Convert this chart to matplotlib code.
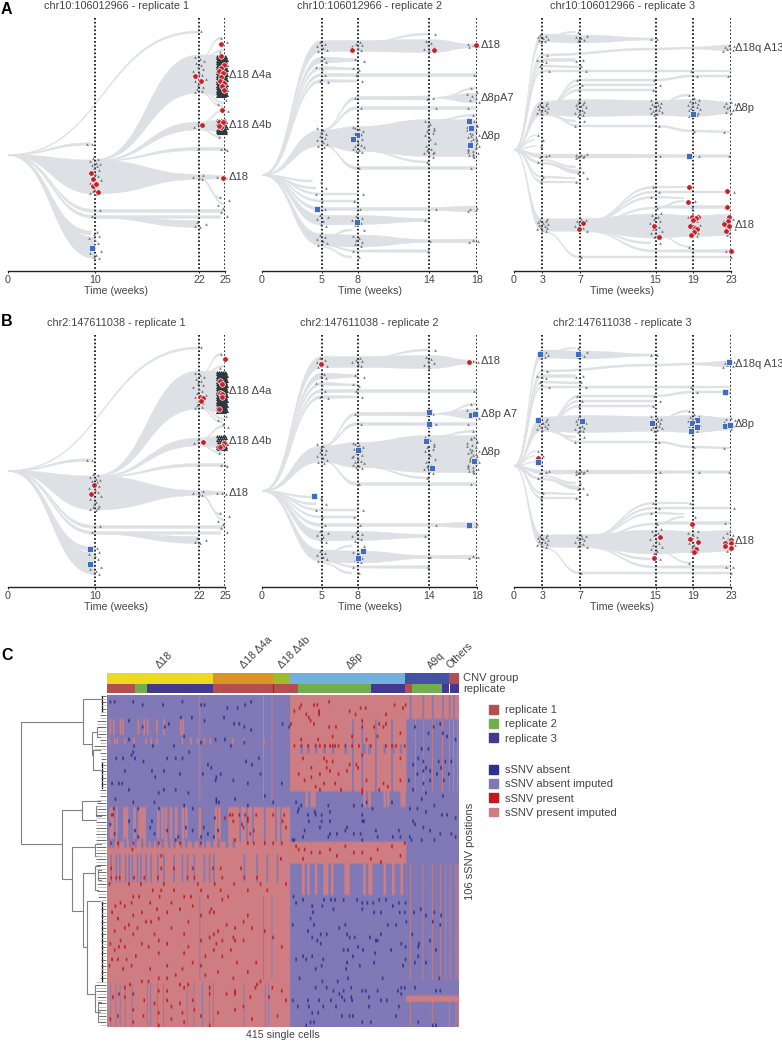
#!/usr/bin/env python3
"""Clone fish plots (panels A, B) and sSNV heatmap with dendrogram (panel C)."""

import matplotlib

matplotlib.use("Agg")
import matplotlib.pyplot as plt
import numpy as np
from matplotlib.colors import ListedColormap
from matplotlib.patches import PathPatch, Patch
from matplotlib.path import Path

plt.rcParams["font.family"] = ["Liberation Sans", "DejaVu Sans"]

W, H = 782, 1042
TXT = "#444444"
BAND = "#DDE0E4"
RED = "#C8202A"
BLUE = "#3F6CBF"

# ---- fish plots: clones as (week, level, thickness) knots
TREE_1 = [
    [(0, 155, 1), (22, 32, 2)],
    [(0, 155, 1), (9.5, 144, 2.5)],
    [(0, 155, 1), (10, 177, 34), (22, 177, 5), (25, 177, 3)],
    [(10, 160, 1), (22, 74, 38), (25, 76, 42)],
    [(10, 161, 1), (22, 126, 8), (25, 126, 13)],
    [(10, 161, 1), (22, 149, 3), (25, 149, 3)],
    [(22, 60, 1), (24.6, 38, 2)],
    [(22.3, 58, 1), (25, 50, 2)],
    [(22, 90, 1), (25, 103, 2)],
    [(22, 92, 1), (24.7, 106, 2)],
    [(22, 124, 1), (25, 110, 2)],
    [(22, 129, 1), (24.6, 137, 2)],
    [(22, 178, 1), (25, 204, 2)],
    [(22, 178, 1), (24.5, 198, 2)],
    [(0, 155, 1), (10, 211, 3), (25, 211, 3)],
    [(0, 155, 1), (10, 217, 3), (24.5, 217, 2.5)],
    [(10, 217, 2), (22, 224, 7)],
    [(0, 155, 1), (9.6, 233, 4)],
    [(0, 155, 1), (9.6, 241, 2.5)],
    [(0, 155, 1), (10, 248, 21)],
]
TREE_2 = [
    [(0, 175, 1), (5, 46, 11), (8, 46, 11), (14, 46, 13), (18, 46, 3)],
    [(8.3, 43, 1), (14, 34, 2)],
    [(0, 175, 1), (5, 60, 6), (8, 60, 3)],
    [(0, 175, 1), (5, 68, 3), (8, 69, 2)],
    [(0, 175, 1), (5, 75, 3), (18, 75, 3)],
    [(0, 175, 1), (5, 81, 3), (8, 81, 2)],
    [(0, 175, 1), (5, 138, 16), (8, 139, 25), (14, 138, 37), (18, 138, 37)],
    [(5, 130, 1), (8, 98, 3), (14, 98, 4)],
    [(14.4, 98, 1), (18, 98, 10)],
    [(15, 97, 1), (18, 88, 2)],
    [(5, 130, 1), (8, 108, 3), (18, 108, 3)],
    [(14, 121, 1), (18, 115, 2)],
    [(5, 145, 1), (8, 168, 3), (18, 168, 3)],
    [(8, 150, 1), (14, 162, 2)],
    [(0, 175, 1), (4.2, 181, 2)],
    [(0, 175, 1), (4.5, 188, 2)],
    [(0, 175, 1), (5, 194, 2), (8, 194, 2)],
    [(0, 175, 1), (5, 201, 2), (8, 201, 2)],
    [(0, 175, 1), (5, 209, 3), (14, 209, 3), (18, 209, 6)],
    [(0, 175, 1), (5, 220, 10), (8, 220, 9), (14, 220, 3)],
    [(0, 175, 1), (5, 240, 12), (8, 241, 12), (14, 241, 3), (18, 241, 4)],
    [(5, 238, 1), (7.5, 230, 2)],
    [(5, 245, 1), (8, 251, 2), (14, 251, 3)],
    [(5, 247, 1), (7.5, 257, 2)],
]
TREE_3 = [
    [(0, 150, 1), (3, 38, 8), (7, 39, 8), (15, 39, 2)],
    [(3, 37, 1), (6.5, 32, 1.5)],
    [(0, 150, 1), (3, 55, 2), (15, 49, 2), (19, 48, 2), (23, 48, 6)],
    [(0, 150, 1), (3, 60, 3), (6.5, 60, 3)],
    [(0, 150, 1), (3, 66, 2), (7, 67, 2)],
    [(0, 150, 1), (3, 71, 2), (19, 71, 2), (23, 71, 1.5)],
    [(3.2, 108, 1), (7, 80, 2), (15, 80, 2), (19, 76, 2), (23, 76, 2)],
    [(3.2, 108, 1), (7, 85, 2), (15, 85, 2)],
    [(3.2, 108, 1), (7, 90, 2), (15, 90, 2)],
    [(0, 150, 1), (3, 108, 14), (7, 108, 17), (15, 108, 15), (19, 108, 17), (23, 108, 12)],
    [(15, 104, 1), (18.5, 95, 2)],
    [(3.2, 112, 1), (7, 126, 2), (15, 126, 2), (19, 131, 2), (23, 132, 2)],
    [(3.2, 115, 1), (6.5, 121, 2)],
    [(0, 150, 1), (2.4, 135, 1)],
    [(0, 150, 1), (2.2, 140, 1)],
    [(0, 150, 1), (2.4, 146, 1)],
    [(0, 150, 1), (3, 156, 4), (7, 156, 4), (23, 156, 2.5)],
    [(0, 150, 1), (2.5, 162, 1.5)],
    [(0, 150, 1), (3, 163, 2), (7, 172, 4)],
    [(3, 160, 1), (6.5, 167, 2)],
    [(0, 150, 1), (3, 177, 2), (6.5, 178, 1.5)],
    [(0, 150, 1), (3, 182, 2), (7, 182, 1.5)],
    [(0, 150, 1), (3, 225, 12), (7, 225, 13), (15, 226, 24), (19, 226, 21), (23, 225, 21)],
    [(7.5, 222, 1), (15, 187, 2), (18.5, 187, 1.5)],
    [(7.5, 222, 1), (15, 192, 2), (23, 192, 2)],
    [(7.5, 222, 1), (15, 197, 2), (18, 198, 1.5)],
    [(8, 222, 1), (15, 208, 2), (18, 201, 1.5)],
    [(15, 207, 2), (19, 207, 3), (23, 207, 3)],
    [(7.5, 230, 1), (14.5, 243, 2)],
    [(7.5, 231, 1), (15, 251, 2), (23, 251, 3)],
    [(15, 235, 1), (18.8, 247, 1.5)],
    [(3.2, 232, 1), (7, 257, 2), (23, 257, 2)],
]

# grey single cells: (week, levels)
GREY_1 = [
    (10, [158, 159, 161, 163, 164, 165, 166, 168, 170, 172, 174, 176, 178, 180, 183, 186, 188, 190, 191, 192, 193, 194]),
    (10, [210, 216, 232, 234, 236, 238, 240, 243, 249, 251, 253, 255, 257, 258]),
    (9.3, [144, 144]),
    (22, [57, 59, 61, 63, 65, 67, 69, 71, 73, 75, 77, 79, 81, 83, 85, 87, 89, 91, 92]),
    (21.8, [123, 125, 127]),
    (22, [31, 149, 175, 177, 178, 179, 222, 224, 226, 227]),
    (24.7, [38, 42, 52, 100, 104, 108, 111, 137, 149, 149, 150, 177, 177, 178, 197, 200, 205, 208, 212, 216]),
]
DENSE_1 = [(24.95, [56, 57, 58, 59, 60, 61, 62, 63, 64, 65, 66, 67, 68, 69, 70, 71, 72, 73, 74, 75, 76, 77, 78,
                    79, 80, 81, 82, 83, 84, 85, 86, 87, 88, 89, 90, 91, 92, 93, 94, 95, 96]),
           (24.95, [120, 122, 124, 126, 128, 130, 131, 132, 133])]
GREY_2 = [
    (5, [42, 44, 46, 48, 50, 51, 58, 60, 62, 67, 69, 75, 81, 82]),
    (5, [128, 130, 132, 134, 136, 138, 140, 142, 144, 146, 147, 182, 188, 194, 201, 209]),
    (5, [215, 217, 219, 221, 224, 226, 235, 237, 239, 241, 243, 245]),
    (8, [42, 44, 45, 46, 48, 50, 59, 61, 68, 70, 75, 81, 98, 108]),
    (8, [127, 129, 131, 133, 135, 137, 139, 141, 143, 145, 146, 147, 149, 150, 151, 152, 128, 134, 140]),
    (8, [168, 194, 201, 209, 216, 218, 220, 222, 223, 225, 230, 236, 238, 240, 242, 244, 246, 251, 257]),
    (14, [34, 41, 43, 45, 47, 49, 51, 98, 99, 108, 121, 124, 126, 128, 131, 133, 135, 139, 143, 146]),
    (14, [149, 151, 152, 153, 155, 157, 162, 209, 220, 241, 251, 130, 150, 153]),
    (17.6, [44, 45, 46, 47, 75, 88, 92, 94, 96, 98, 100, 102, 108, 115, 168, 208, 209, 210, 211, 240, 241, 242]),
    (17.6, [121, 123, 125, 127, 129, 131, 133, 135, 137, 139, 141, 143, 145, 147, 149, 151, 153, 155, 157]),
    (17.6, [122, 126, 130, 134, 138, 142, 146, 150, 154, 136, 140, 144, 148, 152, 156]),
]
GREY_3 = [
    (3, [35, 36, 37, 38, 39, 40, 41, 42, 55, 60, 61, 62, 66, 71, 135, 140, 146]),
    (3, [103, 104, 105, 106, 107, 108, 109, 110, 111, 112, 113, 114, 156, 157, 155, 162, 177, 182]),
    (3, [219, 220, 221, 222, 223, 224, 225, 226, 227, 228, 229, 230, 231]),
    (7, [32, 36, 37, 38, 39, 40, 41, 60, 61, 66, 71, 80, 85, 90, 121, 126, 167, 172, 173, 178, 182, 257]),
    (7, [100, 102, 103, 104, 105, 106, 107, 108, 110, 111, 112, 113, 114, 115, 116]),
    (7, [154, 155, 155, 156, 156, 157, 157, 158, 219, 220, 221, 222, 223, 224, 226, 227, 228, 230, 231]),
    (15, [39, 39, 80, 85, 90, 126, 100, 102, 103, 104, 105, 106, 107, 108, 109, 110, 111, 112, 113, 114, 115]),
    (15, [156, 187, 192, 197, 208, 213, 215, 217, 219, 221, 223, 225, 227, 229, 231, 233, 235, 237, 243]),
    (19, [71, 76, 95, 98, 100, 101, 102, 103, 104, 105, 106, 107, 108, 109, 110, 111, 112, 113, 114, 115, 116]),
    (19, [131, 156, 187, 201, 207, 215, 217, 219, 221, 223, 225, 227, 229, 231, 233, 235, 236, 247]),
    (22.7, [45, 46, 47, 48, 49, 50, 51, 76, 102, 103, 104, 106, 107, 108, 110, 112, 113, 132, 156, 192, 207]),
    (22.7, [215, 217, 219, 221, 223, 225, 227, 229, 231, 233, 235, 251, 251, 257]),
]
JITTER_PX = [-2, 3, -4, 1, 5, -3, 2, -1, 4, -5, 0, 3, -2, 6, -4, 1, -1, 4]

RED_A1 = [(9.52, 173), (9.75, 179), (9.8, 186), (10.14, 184), (10.4, 192), (21.6, 76), (22.2, 81), (22.35, 125),
          (24.58, 44), (24.58, 56), (24.88, 65), (24.58, 68), (24.35, 71), (24.8, 73), (24.58, 77), (24.4, 81),
          (24.88, 83), (24.6, 86), (24.88, 90), (24.7, 110), (24.3, 122), (24.8, 122), (24.58, 127), (24.35, 126),
          (24.77, 178)]
BLUE_A1 = [(9.64, 248)]
RED_A2 = [(7.51, 50), (14.44, 50), (17.9, 45)]
BLUE_A2 = [(4.58, 209), (7.93, 135), (7.6, 139), (7.99, 222), (17.37, 121), (17.51, 128), (17.43, 145)]
RED_A3 = [(7.28, 223), (6.86, 229), (14.88, 226), (15.37, 237), (18.59, 187), (18.45, 202), (22.6, 191), (22.6, 207),
          (23, 251), (18.9, 217), (19.5, 217), (19.33, 218), (18.98, 220), (18.62, 226), (19.2, 228), (19.4, 229),
          (19.05, 232), (18.76, 235), (22.8, 217), (22.65, 221), (22.3, 224), (22.76, 226), (22.47, 231)]
BLUE_A3 = [(18.94, 114), (18.59, 156)]
RED_B1 = [(9.87, 169), (9.52, 178), (22.16, 81), (22.5, 82), (22.2, 85), (22.5, 126), (24.96, 43), (24.42, 65),
          (24.6, 68), (24.42, 77), (24.7, 78), (24.6, 81), (24.35, 93), (24.85, 127), (24.6, 130), (24.46, 131)]
BLUE_B1 = [(9.49, 233), (9.49, 248)]
RED_B2 = [(4.94, 48), (17.3, 46)]
BLUE_B2 = [(4.33, 180), (13.97, 96), (13.94, 108), (13.74, 125), (8.07, 134), (14.27, 152), (17.49, 99), (17.85, 98),
           (17.74, 145), (17.32, 209), (8.44, 235), (8.02, 242)]
RED_B3 = [(2.51, 142), (18.9, 208), (15.44, 221), (18.62, 223), (19.5, 226), (19.33, 233), (19.05, 236), (14.88, 242),
          (22.97, 224), (22.37, 227), (22.97, 227), (22.37, 230), (22.97, 232)]
BLUE_B3 = [(2.79, 38), (6.75, 38), (22.76, 46), (22.37, 76), (2.54, 104), (7.24, 105), (14.63, 107), (19.36, 104),
           (18.83, 107), (19.43, 111), (18.8, 115), (22.37, 110), (22.86, 109), (2.51, 146)]

WEEKS_1 = [0, 10, 22, 25]
WEEKS_2 = [0, 5, 8, 14, 18]
WEEKS_3 = [0, 3, 7, 15, 19, 23]
LABELS_1 = [("Δ18 Δ4a", 75), ("Δ18 Δ4b", 125), ("Δ18", 177)]
LABELS_A2 = [("Δ18", 45), ("Δ8pA7", 98), ("Δ8p", 136)]
LABELS_B2 = [("Δ18", 45), ("Δ8p A7", 98), ("Δ8p", 136)]
LABELS_3 = [("Δ18q A13", 48), ("Δ8p", 108), ("Δ18", 225)]

# ---- heatmap: 106 sSNV rows by 415 cells; 0 absent, 1 absent imputed, 2 present, 3 present imputed
N_ROWS, N_CELLS = 106, 415
STATE_COLORS = ["#2E3190", "#8079B6", "#C0191F", "#CE7E82"]
BLOCKS = [
    (0, 31, 216, 353, 3), (0, 8, 353, 415, 3), (36, 47, 145, 216, 3), (47, 54, 0, 353, 3),
    (48, 106, 0, 216, 3), (96, 98, 353, 415, 3),
]
# (first row, last row, width in cells, state, cells)
STRIPES = [
    (0, 34, 1, 3, [109, 184, 194]),
    (8, 13, 2, 3, [3, 7, 15, 18, 36, 43, 47, 58, 66, 86, 89]),
    (14, 16, 2, 3, [2, 8, 11, 20, 31, 45, 51, 58, 88, 98, 106, 114, 121, 147, 161, 184]),
    (36, 47, 3, 3, [3, 5, 10, 19, 22, 31, 37, 40, 43, 59, 64, 68, 74, 80, 88, 92, 108, 127, 131, 143]),
    (36, 47, 2, 1, [156, 164, 171, 185, 198, 204]),
    (46, 49, 3, 1, [2, 6, 12, 20, 26, 32, 40, 46, 52, 58, 64, 72, 78, 86, 92, 100, 108, 114, 122, 130, 140, 148]),
    (51, 60, 2, 1, [4, 10, 14, 21, 25, 29, 35, 39, 45, 51, 59, 66, 78, 88, 94, 102, 114, 120, 125, 161, 176, 188, 200]),
    (64, 91, 1, 1, [109, 184, 194]),
    (92, 106, 1, 1, [4, 10, 15, 21, 29, 47, 51, 59, 66, 94, 102, 112, 120, 125, 161, 186, 190]),
    (8, 31, 2, 1, [289, 300, 316, 335]),
    (16, 19, 3, 1, [228, 236, 245, 255, 265, 280, 302, 308, 326, 336, 345]),
    (31, 36, 3, 3, [234, 240, 243, 302, 308, 326, 330, 346, 349]),
    (54, 64, 3, 3, [230, 236, 245, 255, 258, 264, 280, 283, 302, 308, 310, 326, 336, 346]),
    (0, 8, 2, 1, [357, 372, 383, 395, 403, 408]),
    (8, 31, 1, 3, [363, 373, 383, 395, 403, 408, 413]),
    (54, 91, 1, 3, [357, 372, 383, 393, 399, 404, 411, 414]),
    (97, 106, 1, 3, [357, 383, 403, 411, 414]),
]
ABSENT_SPECKS = [
    (2, 3), (2, 8), (2, 30), (3, 41), (3, 65), (2, 88), (3, 110), (3, 114), (4, 141), (4, 153), (3, 162), (2, 169),
    (8, 25), (7, 86), (7, 99), (7, 137), (8, 114), (9, 149), (9, 155), (10, 41), (10, 67), (9, 72), (10, 161),
    (11, 169), (9, 206), (10, 214), (14, 25), (16, 31), (16, 53), (16, 78), (14, 127), (14, 138), (16, 145), (15, 161),
    (15, 110), (13, 90), (18, 30), (20, 10), (20, 18), (19, 28), (20, 32), (21, 42), (20, 70), (20, 80), (18, 96),
    (20, 88), (22, 118), (23, 122), (25, 112), (22, 170), (21, 163), (20, 178), (24, 20), (24, 52), (24, 66), (26, 56),
    (25, 85), (26, 128), (25, 133), (27, 127), (28, 5), (28, 13), (28, 17), (30, 25), (30, 66), (31, 60), (30, 80),
    (27, 148), (28, 165), (25, 180), (28, 205), (31, 95), (33, 9), (34, 30), (34, 55), (35, 90), (34, 128), (34, 131),
    (33, 150), (32, 185), (33, 128), (34, 195), (36, 7), (36, 36), (36, 60), (36, 100), (35, 165),
    (38, 5), (41, 3), (44, 8), (40, 25), (43, 32), (45, 36), (42, 50), (44, 55), (40, 52), (43, 70), (46, 80), (45, 83),
    (42, 92), (43, 100), (45, 110), (42, 113), (44, 118), (39, 126), (43, 130), (45, 125),
    (64, 219), (66, 222), (65, 230), (67, 241), (67, 253), (65, 255), (65, 263), (65, 268), (65, 278), (65, 294),
    (66, 300), (66, 306), (66, 313), (65, 320), (65, 328), (67, 336), (66, 343), (66, 351), (69, 361), (68, 369),
    (70, 375), (69, 385), (70, 393), (69, 242), (68, 266), (68, 300), (69, 314), (69, 322), (69, 344), (69, 350),
    (71, 239), (73, 330), (73, 340), (72, 352), (73, 218), (73, 243), (73, 280), (74, 273), (76, 359), (73, 392),
    (72, 383), (75, 236), (76, 251), (76, 258), (76, 282), (77, 291), (77, 309), (76, 322), (79, 346), (79, 367),
    (78, 380), (77, 241), (78, 247), (79, 251), (77, 285), (78, 316), (78, 318), (80, 295), (81, 301), (81, 334),
    (80, 351), (80, 366), (81, 387), (81, 278), (81, 283), (82, 315), (83, 230), (83, 241), (84, 222), (84, 234),
    (84, 254), (83, 289), (85, 282), (85, 314), (84, 351), (85, 362), (85, 375), (83, 366), (87, 245), (86, 252),
    (86, 297), (87, 281), (86, 348), (90, 283), (90, 226), (91, 271), (90, 324), (90, 391), (91, 253), (93, 245),
    (93, 258), (94, 266), (94, 278), (93, 287), (94, 300), (94, 304), (94, 318), (94, 342), (93, 346), (93, 350),
    (93, 362), (94, 387), (94, 392), (95, 273), (95, 346), (96, 276), (96, 287), (96, 308), (97, 218), (99, 224),
    (97, 236), (97, 249), (99, 254), (97, 263), (99, 269), (97, 279), (97, 288), (99, 308), (97, 322), (97, 329),
    (99, 343), (99, 237), (101, 248), (101, 241), (102, 276), (102, 285), (102, 289), (102, 340), (104, 243),
    (104, 239), (104, 300), (104, 310), (105, 234), (104, 366), (105, 383), (105, 387),
    (17, 370), (17, 378), (20, 366), (21, 372), (21, 390), (21, 398), (21, 405), (22, 360), (23, 375), (23, 393),
    (24, 372), (24, 380), (25, 365), (25, 388), (25, 402), (27, 355), (27, 380), (27, 396), (28, 372), (12, 395),
    (12, 378), (13, 400), (14, 410), (30, 360), (31, 375), (32, 395), (33, 370), (35, 385), (10, 362), (10, 384), (9, 392),
    (34, 222), (35, 228), (36, 225), (35, 260), (35, 290), (35, 300), (34, 305), (36, 312), (34, 335), (37, 224),
    (37, 244), (37, 262), (38, 245), (38, 236), (38, 252), (38, 300), (40, 237), (40, 252), (40, 262), (40, 300),
    (40, 302), (42, 250), (42, 282), (44, 270), (45, 230), (44, 262), (44, 298), (45, 318), (45, 336), (45, 345),
    (45, 356), (43, 232), (43, 316), (46, 218), (46, 220), (43, 343), (46, 300), (45, 260), (44, 290), (43, 280),
    (36, 356), (36, 365), (37, 375), (38, 394), (38, 400), (39, 410), (40, 360), (41, 362), (42, 372), (43, 380),
    (44, 392), (44, 405), (46, 358), (46, 370), (46, 385), (45, 410),
]
PRESENT_SPECKS = [
    (38, 6), (38, 144), (38, 147), (38, 155), (38, 162), (39, 165), (38, 175), (38, 195), (38, 208), (39, 138),
    (40, 148), (41, 158), (40, 165), (42, 160), (43, 172), (44, 168), (46, 150), (47, 165), (47, 172), (47, 185),
    (47, 195), (47, 205), (40, 206), (42, 210), (47, 4), (47, 12), (47, 30), (47, 60), (47, 85), (47, 110),
    (49, 29), (51, 63), (52, 204), (55, 4), (55, 63), (55, 78), (55, 100), (55, 124), (55, 133), (55, 157), (58, 4),
    (58, 10), (58, 14), (58, 31), (58, 43), (58, 59), (58, 94), (58, 102), (58, 135), (58, 161), (58, 176), (60, 2),
    (60, 25), (60, 39), (60, 66), (60, 106), (60, 126), (60, 149), (60, 180), (60, 210), (62, 53), (62, 63), (62, 78),
    (62, 110), (62, 133), (62, 165), (62, 188), (64, 30), (64, 37), (64, 61), (64, 90), (64, 98), (64, 118), (65, 135),
    (64, 142), (66, 15), (66, 28), (66, 50), (66, 75), (67, 9), (67, 20), (67, 100), (68, 58), (68, 85), (68, 122),
    (69, 5), (69, 40), (69, 70), (69, 120), (69, 125), (70, 30), (70, 110), (70, 165), (71, 12), (71, 60), (72, 45),
    (72, 51), (72, 95), (72, 160), (73, 25), (73, 140), (74, 20), (74, 35), (74, 75), (74, 150), (74, 170), (75, 8),
    (75, 130), (75, 185), (76, 30), (76, 55), (76, 90), (76, 125), (77, 120), (77, 148), (77, 195), (78, 15), (78, 60),
    (78, 110), (78, 135), (78, 150), (78, 160), (79, 3), (79, 40), (79, 70), (79, 128), (80, 13), (80, 20), (80, 48),
    (80, 95), (80, 205), (81, 8), (81, 125), (81, 145), (82, 60), (82, 90), (83, 33), (83, 115), (83, 135), (84, 5),
    (84, 12), (84, 22), (85, 100), (85, 152), (85, 175), (86, 2), (86, 28), (86, 70), (86, 110), (87, 18), (87, 50),
    (87, 88), (88, 130), (88, 165), (89, 80), (89, 115), (90, 60), (90, 70), (90, 148), (91, 40), (91, 48), (91, 180),
    (92, 26), (92, 85), (92, 95), (92, 176), (93, 20), (93, 90), (93, 120), (93, 174), (93, 194), (94, 60), (94, 70),
    (94, 150), (94, 205), (95, 13), (95, 30), (95, 120), (95, 140), (95, 150), (96, 6), (96, 20), (96, 168), (96, 190),
    (97, 43), (97, 70), (97, 100), (97, 210), (98, 55), (98, 85), (99, 75), (99, 160), (100, 30), (100, 102), (100, 150),
    (101, 60), (101, 88), (101, 130), (102, 12), (102, 42), (102, 110), (102, 200), (103, 3), (103, 75), (103, 170),
    (104, 30), (104, 90), (105, 60), (105, 120),
    (3, 228), (4, 226), (3, 243), (3, 247), (5, 220), (6, 234), (7, 237), (5, 249), (6, 249), (2, 261), (8, 239),
    (14, 228), (9, 243), (10, 261), (10, 269), (5, 285), (6, 292), (4, 298), (4, 304), (6, 328), (3, 338), (4, 348),
    (3, 351), (9, 216), (16, 220), (16, 228), (16, 236), (16, 245), (16, 250), (16, 256), (16, 262), (16, 265),
    (16, 268), (16, 272), (16, 280), (16, 288), (16, 296), (16, 310), (16, 328), (16, 335), (16, 340), (16, 350),
    (20, 230), (20, 255), (21, 258), (22, 285), (21, 265), (22, 293), (23, 295), (19, 300), (24, 262), (24, 282),
    (23, 258), (23, 240), (25, 225), (25, 250), (25, 272), (26, 240), (27, 232), (27, 305), (27, 345), (28, 268),
    (28, 255), (28, 325), (29, 245), (30, 250), (30, 275), (30, 300), (30, 320), (29, 330), (31, 300), (10, 300),
    (10, 314), (10, 325), (12, 345), (13, 288), (14, 305), (13, 265), (13, 318), (14, 248), (20, 345), (8, 300),
    (9, 320), (9, 328), (48, 222), (49, 232), (49, 225), (50, 240), (50, 250), (49, 262), (48, 280), (50, 300),
    (49, 318), (48, 335), (51, 345), (52, 230), (51, 270), (50, 290), (47, 350), (52, 310), (53, 322),
]

CNV_EDGES = [0, 125, 196, 216, 351, 403, 415]
CNV_COLORS = ["#EDD922", "#D99426", "#9CBB2D", "#72B1DC", "#4352A3", "#B3504F"]
REP_1, REP_2, REP_3 = "#B3504F", "#72AE4E", "#44398F"
REP_EDGES = [0, 33, 47, 125, 196, 197, 225, 311, 351, 359, 395, 403, 404, 415]
REP_COLORS = [REP_1, REP_2, REP_3, REP_1, REP_3, REP_1, REP_2, REP_3, REP_1, REP_2, REP_3, "white", REP_3]
GROUP_LABELS = [("Δ18", 60), ("Δ18 Δ4a", 159), ("Δ18 Δ4b", 204), ("Δ8p", 284), ("A9q", 380), ("Others", 403)]

# dendrogram links: (merge height, child heights, child positions), pixel-like units
DENDRO_LINKS = [
    (20.5, 62, 83, 844, 722), (62, 72, 82, 879, 810), (82, 100, 96, 801, 820), (72, 83, 95, 911, 847),
    (83, 87, 95, 947, 873), (87, 95, 100, 994, 901), (83, 92, 101, 744, 699), (92, 93, 97, 755, 732),
    (93, 100, 100, 770, 750), (97, 101, 101, 737, 727), (95, 100, 101, 856, 844), (95, 98, 100, 890, 866),
    (96, 101, 100, 816, 806), (95, 100, 98, 1012, 985), (98, 101, 101, 1022, 1002), (98, 101, 101, 880, 870),
]
DENDRO_COMBS = [(101.5, 696, 712), (101.5, 762, 788), (101.5, 902, 981)]
LEAF_X = [
    101, 101, 101, 101, 101, 101, 100, 100, 97, 97, 98, 98, 98, 100, 100, 100, 94, 94, 100, 100, 101, 101, 101, 101,
    101, 101, 101, 101, 101, 101, 100, 100, 100, 97, 97, 97, 97, 96, 96, 96, 96, 96, 96, 96, 96, 96, 96, 96, 96, 96,
    96, 96, 96, 96, 96, 96, 98, 98, 98, 98, 97, 97, 97, 98, 98, 101, 101, 101, 101, 101, 101, 101, 101, 101, 101, 101,
    101, 101, 101, 101, 101, 101, 101, 101, 101, 101, 101, 101, 101, 100, 100, 96, 96, 96, 96, 97, 97, 97, 98, 98, 98,
    99, 99, 99, 100, 100,
]
LEAF_COLORS = ["#555555", "#BBBBBB"]


def px_axes(fig, x0, x1, y0, y1):
    ax = fig.add_axes([x0 / W, 1 - y1 / H, (x1 - x0) / W, (y1 - y0) / H])
    ax.patch.set_alpha(0)
    return ax


def draw_band(ax, knots):
    weeks = [k[0] for k in knots]
    top = [k[1] - k[2] / 2 for k in knots]
    bot = [k[1] + k[2] / 2 for k in knots]
    verts = [(weeks[0], top[0])]
    codes = [Path.MOVETO]
    for i in range(len(knots) - 1):
        mid = (weeks[i] + weeks[i + 1]) / 2
        verts += [(mid, top[i]), (mid, top[i + 1]), (weeks[i + 1], top[i + 1])]
        codes += [Path.CURVE4] * 3
    verts.append((weeks[-1], bot[-1]))
    codes.append(Path.LINETO)
    for i in range(len(knots) - 1, 0, -1):
        mid = (weeks[i] + weeks[i - 1]) / 2
        verts += [(mid, bot[i]), (mid, bot[i - 1]), (weeks[i - 1], bot[i - 1])]
        codes += [Path.CURVE4] * 3
    verts.append(verts[0])
    codes.append(Path.CLOSEPOLY)
    ax.add_patch(PathPatch(Path(verts, codes), fc=BAND, ec=BAND, lw=0.3, zorder=1))


def fish_panel(fig, x0, x1, y_shift, title, weeks, tree, grey, dense, reds, blues, labels, vtop):
    ax = px_axes(fig, x0, x1, y_shift, 270.7 + y_shift)
    ax.set_xlim(0, weeks[-1])
    ax.set_ylim(270.7, 0)
    scale = (x1 - x0) / weeks[-1]
    for knots in tree:
        draw_band(ax, knots)
    ax.vlines(weeks[1:], vtop, 270.7, colors="black", linestyles=(0, (1, 1.3)), lw=1.2, zorder=2)

    k = 0
    for t, ys in grey:
        xs = []
        for _ in ys:
            xs.append(t + JITTER_PX[k % len(JITTER_PX)] * 1.1 / scale)
            k += 1
        ax.scatter(xs, ys, marker="^", s=3.5, c="#70767A", linewidths=0, zorder=3, clip_on=False)
    for t, ys in dense:
        for dx in (-7, -5, -3, -1, 1):
            xs = [t + (dx + JITTER_PX[i % 5] * 0.25) / scale for i in range(len(ys))]
            ax.scatter(xs, ys, marker="^", s=5, c="#2F383E", linewidths=0, zorder=3, clip_on=False)

    if reds:
        ax.scatter(*zip(*reds), marker="o", s=16, c=RED, edgecolors="white", linewidths=0.5, zorder=5, clip_on=False)
    if blues:
        ax.scatter(*zip(*blues), marker="s", s=15, c=BLUE, edgecolors="white", linewidths=0.5, zorder=5, clip_on=False)

    for text, y in labels:
        ax.annotate(text, (1, y), xycoords=("axes fraction", "data"), xytext=(4, 0), textcoords="offset pixels",
                    va="center", ha="left", fontsize=8.0, color=TXT, annotation_clip=False)
    ax.text(0.5, title[1], title[0], transform=ax.get_yaxis_transform(), ha="center", va="center",
            fontsize=7.8, color=TXT)

    for side in ("top", "right", "left"):
        ax.spines[side].set_visible(False)
    ax.spines["bottom"].set_linewidth(1.0)
    ax.spines["bottom"].set_color("#222222")
    ax.set_yticks([])
    ax.set_xticks(weeks)
    ax.tick_params(axis="x", length=1.5, width=0.7, pad=1.5, labelsize=7.7, labelcolor=TXT, color="#222222")
    ax.set_xlabel("Time (weeks)", fontsize=7.7, color=TXT, labelpad=0.5)
    return ax


def heatmap_matrix():
    m = np.ones((N_ROWS, N_CELLS), dtype=int)
    for r0, r1, c0, c1, s in BLOCKS:
        m[r0:r1, c0:c1] = s
    for r0, r1, w, s, cols in STRIPES:
        for c in cols:
            m[r0:r1, c:c + w] = s
    for r, c in ABSENT_SPECKS:
        m[r, c:c + 2] = 0
    for r, c in PRESENT_SPECKS:
        m[r, c:c + 2] = 2
    return m


def color_bar(ax, edges, colors):
    for i, color in enumerate(colors):
        ax.barh(0, edges[i + 1] - edges[i], left=edges[i], height=1, color=color, linewidth=0)
    ax.set_xlim(0, N_CELLS)
    ax.set_ylim(-0.5, 0.5)
    ax.axis("off")


def panel_c(fig):
    ax = px_axes(fig, 107, 459, 694.5, 1027)
    cmap = ListedColormap(STATE_COLORS)
    ax.imshow(heatmap_matrix(), cmap=cmap, vmin=0, vmax=3, aspect="auto", interpolation="hanning",
              interpolation_stage="rgba", extent=(0, N_CELLS, N_ROWS, 0))
    ax.set_xticks([])
    ax.set_yticks([])
    for s in ax.spines.values():
        s.set_visible(False)
    ax.set_xlabel("415 single cells", fontsize=7.7, color=TXT, labelpad=2.5)

    cnv = px_axes(fig, 107, 459, 673, 683.5)
    color_bar(cnv, CNV_EDGES, CNV_COLORS)
    rep = px_axes(fig, 107, 459, 683.5, 693)
    color_bar(rep, REP_EDGES, REP_COLORS)
    for text, col in GROUP_LABELS:
        cnv.annotate(text, (col, 0.5), xytext=(0, 6), textcoords="offset pixels", ha="left", va="center",
                     rotation=45, rotation_mode="anchor", fontsize=7.7, color=TXT, annotation_clip=False)
    fig.text(463 / W, 1 - 678 / H, "CNV group", fontsize=8, color=TXT, va="center")
    fig.text(463 / W, 1 - 689.5 / H, "replicate", fontsize=8, color=TXT, va="center")
    fig.text(470 / W, 1 - 851 / H, "106 sSNV positions", fontsize=8, color=TXT, va="center", ha="center", rotation=90)

    den = px_axes(fig, 20, 107, 694.5, 1027)
    den.set_xlim(20, 107)
    den.set_ylim(1027, 694.5)
    den.axis("off")
    for x, x_a, x_b, y_a, y_b in DENDRO_LINKS:
        den.plot([x_a, x, x, x_b], [y_a, y_a, y_b, y_b], color="#808080", lw=0.8, solid_joinstyle="miter")
    for x, y_a, y_b in DENDRO_COMBS:
        den.plot([x, x], [y_a, y_b], color="#111111", lw=0.9)
    rows_y = 694.5 + (np.arange(N_ROWS) + 0.5) * (1027 - 694.5) / N_ROWS
    den.hlines(rows_y, LEAF_X, 106, colors=[LEAF_COLORS[i % 2] for i in range(N_ROWS)], lw=0.6)

    h_rep = [Patch(color=c) for c in (REP_1, REP_2, REP_3)]
    h_state = [Patch(color=c) for c in STATE_COLORS]
    style = dict(frameon=False, fontsize=8, labelcolor=TXT, handlelength=0.85, handleheight=0.85,
                 labelspacing=0.35, handletextpad=0.6, borderpad=0, borderaxespad=0, loc="upper left")
    fig.legend(h_rep, ["replicate 1", "replicate 2", "replicate 3"],
               bbox_to_anchor=(489 / W, 1 - 705 / H), **style)
    fig.legend(h_state, ["sSNV absent", "sSNV absent imputed", "sSNV present", "sSNV present imputed"],
               bbox_to_anchor=(489 / W, 1 - 765 / H), **style)


fig = plt.figure(figsize=(W / 100, H / 100), dpi=100, facecolor="white")

COLS = [(8, 225), (262, 477), (514, 731)]
fish_panel(fig, *COLS[0], 0, ("chr10:106012966 - replicate 1", 6), WEEKS_1, TREE_1, GREY_1, DENSE_1, RED_A1, BLUE_A1, LABELS_1, 18)
fish_panel(fig, *COLS[1], 0, ("chr10:106012966 - replicate 2", 6), WEEKS_2, TREE_2, GREY_2, [], RED_A2, BLUE_A2, LABELS_A2, 18)
fish_panel(fig, *COLS[2], 0, ("chr10:106012966 - replicate 3", 6), WEEKS_3, TREE_3, GREY_3, [], RED_A3, BLUE_A3, LABELS_3, 18)
fish_panel(fig, *COLS[0], 316, ("chr2:147611038 - replicate 1", 7.5), WEEKS_1, TREE_1, GREY_1, DENSE_1, RED_B1, BLUE_B1, LABELS_1, 19)
fish_panel(fig, *COLS[1], 316, ("chr2:147611038 - replicate 2", 7.5), WEEKS_2, TREE_2, GREY_2, [], RED_B2, BLUE_B2, LABELS_B2, 19)
fish_panel(fig, *COLS[2], 316, ("chr2:147611038 - replicate 3", 7.5), WEEKS_3, TREE_3, GREY_3, [], RED_B3, BLUE_B3, LABELS_3, 19)
panel_c(fig)

for letter, y in (("A", 9), ("B", 321), ("C", 656)):
    fig.text(1 / W, 1 - y / H, letter, fontsize=11.5, fontweight="bold", color="black", va="center")

fig.savefig("out.png", dpi=100, facecolor="white")
